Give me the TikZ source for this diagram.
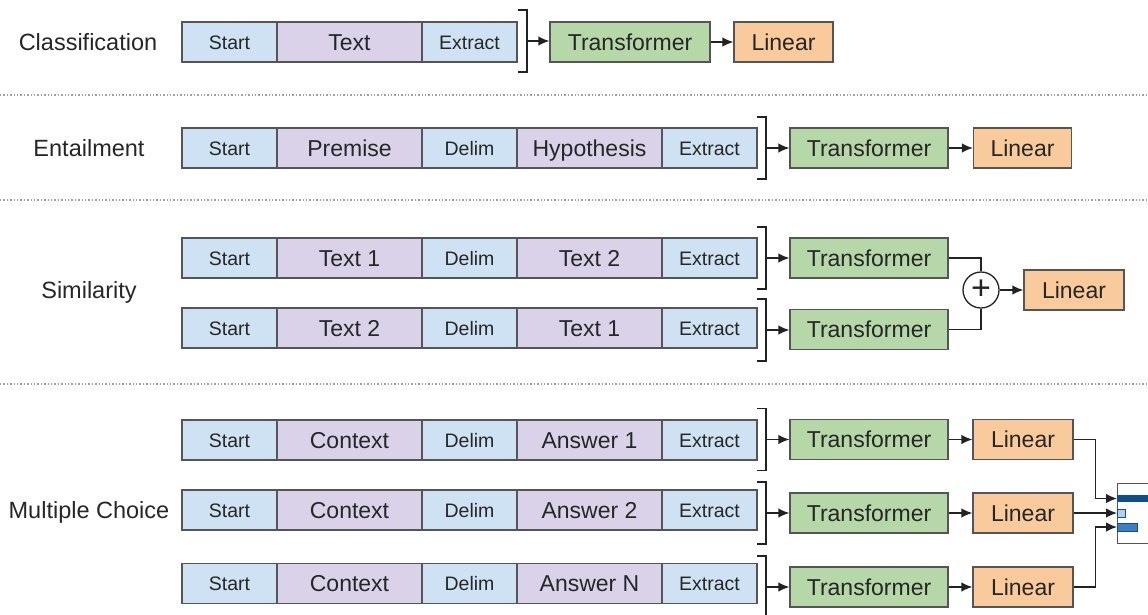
\documentclass[tikz,border=0pt]{standalone}
\usepackage{fontspec}
\setmainfont{Liberation Sans}
\usetikzlibrary{arrows.meta}

\definecolor{segblue}{HTML}{CFE2F3}
\definecolor{segpurple}{HTML}{D9D2E9}
\definecolor{tfgreen}{HTML}{B6D7A8}
\definecolor{linorange}{HTML}{F9CB9C}
\definecolor{boxline}{HTML}{555555}
\definecolor{txt}{HTML}{262626}
\definecolor{conn}{HTML}{222222}
\definecolor{sepgray}{HTML}{A0A0A0}
\definecolor{bardark}{HTML}{0E4F8B}
\definecolor{barmid}{HTML}{3D7EC4}
\definecolor{barlight}{HTML}{B4D0EE}

\tikzset{
  box/.style={draw=boxline, line width=1.3pt, inner sep=0pt, minimum height=40pt, text=txt},
  small/.style={font=\fontsize{19.5}{22}\selectfont, text height=14pt, text depth=0pt},
  large/.style={font=\fontsize{23}{26}\selectfont, text height=16.5pt, text depth=0pt},
  segb/.style={box, small, fill=segblue, minimum width=95pt},
  segp/.style={box, large, fill=segpurple, minimum width=145pt},
  tf/.style={box, large, fill=tfgreen, minimum width=158pt},
  lin/.style={box, large, fill=linorange, minimum width=98pt},
  task/.style={font=\fontsize{23.5}{26}\selectfont, text=txt, text height=17pt, text depth=0pt},
  arr/.style={draw=conn, line width=1.3pt, -{Latex[length=11pt,width=9.5pt]}},
  wire/.style={draw=conn, line width=1.3pt},
  sep/.style={draw=sepgray, line width=1.4pt, dash pattern=on 1.4pt off 2pt},
  bar/.style={inner sep=0pt, anchor=west},
}

% one input sequence: Start | A | Delim | B | Extract
\newcommand\fivebox[4]{%
  \node[segb] (#1-s) at (229.5,#2) {Start};
  \node[segp] (#1-a) at (349.5,#2) {#3};
  \node[segb] (#1-d) at (469.5,#2) {Delim};
  \node[segp] (#1-b) at (589.5,#2) {#4};
  \node[segb] (#1-e) at (709.5,#2) {Extract};
}
% closing bracket after a sequence, with a named point for the outgoing arrow
\newcommand\brk[3]{%
  \coordinate (#1) at (#2,#3);
  \draw[wire] (#2-9,#3-31) -- (#2,#3-31) -- (#2,#3+31) -- (#2-9,#3+31);
}

\begin{document}
\begin{tikzpicture}[x=1pt,y=-1pt]
\useasboundingbox (0,0) rectangle (1148,614);
\clip (0,0) rectangle (1148,614);

% separators
\draw[sep] (0,95) -- (1148,95);
\draw[sep] (0,200) -- (1148,200);
\draw[sep] (0,384) -- (1148,384);

% Classification
\node[task] (c-lab) at (88,42) {Classification};
\node[segb] (c-s) at (229.5,42) {Start};
\node[segp] (c-t) at (349.5,42) {Text};
\node[segb] (c-e) at (469.5,42) {Extract};
\brk{c-br}{527}{41}
\node[tf, minimum width=160pt] (c-tf) at (630,42) {Transformer};
\node[lin, minimum width=99pt] (c-lin) at (783.5,42) {Linear};
\draw[arr] (c-br) -- (c-br -| c-tf.west);
\draw[arr] (c-tf) -- (c-lin);

% Entailment
\node[task] (e-lab) at (89,148) {Entailment};
\fivebox{e}{148}{Premise}{Hypothesis}
\brk{e-br}{766}{148}
\node[tf] (e-tf) at (869,148) {Transformer};
\node[lin] (e-lin) at (1022.5,148) {Linear};
\draw[arr] (e-br) -- (e-tf);
\draw[arr] (e-tf) -- (e-lin);

% Similarity
\node[task] (s-lab) at (89,290) {Similarity};
\fivebox{s1}{258}{Text 1}{Text 2}
\fivebox{s2}{328}{Text 2}{Text 1}
\brk{s1-br}{766}{258}
\brk{s2-br}{766}{330}
\node[tf] (s1-tf) at (869,258) {Transformer};
\node[tf] (s2-tf) at (869,329.5) {Transformer};
\node[draw=conn, line width=1.3pt, circle, minimum size=36pt, inner sep=0pt, fill=white,
      font=\fontsize{34}{34}\selectfont, text=conn] (plus) at (981,290) {\raisebox{1.5pt}{+}};
\node[lin, minimum width=100pt] (s-lin) at (1074,290) {Linear};
\draw[arr] (s1-br) -- (s1-br -| s1-tf.west);
\draw[arr] (s2-br) -- (s2-br -| s2-tf.west);
\draw[wire] (s1-tf.east) -| (plus.north);
\draw[wire] (s2-tf.east) -| (plus.south);
\draw[arr] (plus) -- (s-lin);

% Multiple Choice
\node[task] (m-lab) at (89,510) {Multiple Choice};
\fivebox{m1}{440}{Context}{Answer 1}
\fivebox{m2}{510}{Context}{Answer 2}
\fivebox{m3}{583.5}{Context}{Answer N}
\brk{m1-br}{766}{439.5}
\brk{m2-br}{766}{513}
\brk{m3-br}{766}{587}
\node[tf] (m1-tf) at (869,439.5) {Transformer};
\node[tf] (m2-tf) at (869,513) {Transformer};
\node[tf] (m3-tf) at (869,587) {Transformer};
\node[lin, minimum width=100pt] (m1-lin) at (1023,439.5) {Linear};
\node[lin, minimum width=100pt] (m2-lin) at (1023,513) {Linear};
\node[lin, minimum width=100pt] (m3-lin) at (1023,587) {Linear};
\foreach \r in {m1,m2,m3}{
  \draw[arr] (\r-br) -- (\r-tf);
  \draw[arr] (\r-tf) -- (\r-lin);
}

% scores over the choices
\node[draw=boxline, line width=1.3pt, fill=white, minimum width=60pt, minimum height=60pt,
      inner sep=0pt, anchor=north west] (out) at (1117,483) {};
\node[bar, fill=bardark, minimum width=40pt, minimum height=7pt] (b1) at (1117,498.5) {};
\node[bar, fill=barlight, draw=bardark, line width=0.9pt, minimum width=8pt, minimum height=8pt] (b2) at (1117,513) {};
\node[bar, fill=barmid, draw=bardark, line width=0.6pt, minimum width=20pt, minimum height=8pt] (b3) at (1117,527) {};
\draw[arr] (m1-lin.east) -- ++(22,0) |- (b1.west);
\draw[arr] (m2-lin.east) -- (b2.west);
\draw[arr] (m3-lin.east) -- ++(22,0) |- (b3.west);
\end{tikzpicture}
\end{document}
